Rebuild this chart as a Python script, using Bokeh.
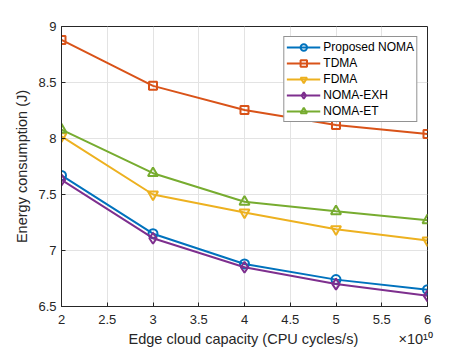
from bokeh.plotting import figure
from bokeh.models import FixedTicker, Range1d, Legend, LegendItem
from bokeh.embed import file_html
from bokeh.resources import INLINE

# ---- data ----
capacity = [2, 3, 4, 5, 6]  # x 1e10 CPU cycles/s
proposed_noma = [7.67, 7.15, 6.88, 6.74, 6.65]
tdma = [8.88, 8.47, 8.255, 8.12, 8.04]
fdma = [8.02, 7.50, 7.34, 7.19, 7.09]
noma_exh = [7.63, 7.11, 6.85, 6.70, 6.595]
noma_et = [8.08, 7.69, 7.435, 7.35, 7.27]

x_ticks = [2, 2.5, 3, 3.5, 4, 4.5, 5, 5.5, 6]
x_tick_labels = ["2", "2.5", "3", "3.5", "4", "4.5", "5", "5.5", "6"]
y_ticks = [6.5, 7, 7.5, 8, 8.5, 9]
y_tick_labels = ["6.5", "7", "7.5", "8", "8.5", "9"]
x_label = "Edge cloud capacity (CPU cycles/s)"
x_exponent = "×10\u00b9\u2070"
y_label = "Energy consumption (J)"

series = [
    ("Proposed NOMA", proposed_noma, "#0072BD", "circle", 9),
    ("TDMA", tdma, "#D95319", "square", 8),
    ("FDMA", fdma, "#EDB120", "inverted_triangle", 10),
    ("NOMA-EXH", noma_exh, "#7E2F8E", "diamond", 11),
    ("NOMA-ET", noma_et, "#77AC30", "triangle", 10),
]

FONT = "Liberation Sans"
TXT = "#262626"
NBSP = "\u00a0"

p = figure(width=463, height=349, output_backend="svg", toolbar_location=None,
           x_range=Range1d(2, 6), y_range=Range1d(6.5, 9),
           min_border_left=61, min_border_right=36, min_border_top=26, min_border_bottom=41)
p.background_fill_color = "white"
p.border_fill_color = "white"
p.outline_line_color = TXT
p.outline_line_width = 1

for ax, ticks, labels in ((p.xaxis[0], x_ticks, x_tick_labels), (p.yaxis[0], y_ticks, y_tick_labels)):
    ax.ticker = FixedTicker(ticks=ticks)
    ax.major_label_overrides = {t: l for t, l in zip(ticks, labels)}
    ax.major_label_text_font = FONT
    ax.major_label_text_font_size = "13px"
    ax.major_label_text_color = TXT
    ax.axis_line_color = TXT
    ax.major_tick_line_color = TXT
    ax.major_tick_in = 4
    ax.major_tick_out = 0
    ax.minor_tick_line_color = None
    ax.axis_label_text_font = FONT
    ax.axis_label_text_font_size = "14.5px"
    ax.axis_label_text_font_style = "normal"
    ax.axis_label_text_color = TXT

# x-axis label with the x10^10 multiplier at the right (padding keeps the label centred)
p.xaxis[0].axis_label = NBSP * 18 + x_label + NBSP * 10 + x_exponent
p.yaxis[0].axis_label = y_label
p.xaxis[0].major_label_standoff = 8
p.xaxis[0].axis_label_standoff = 4
p.yaxis[0].major_label_standoff = 5
p.yaxis[0].axis_label_standoff = 5

p.xgrid.ticker = FixedTicker(ticks=x_ticks)
p.ygrid.ticker = FixedTicker(ticks=y_ticks)
p.grid.grid_line_color = "#e3e3e3"
p.grid.grid_line_width = 1

items = []
for name, vals, color, marker, size in series:
    r1 = p.line(capacity, vals, line_color=color, line_width=2)
    r2 = p.scatter(capacity, vals, marker=marker, size=size, line_color=color,
                   fill_color=None, line_width=2)
    items.append(LegendItem(label=name, renderers=[r1, r2]))

legend = Legend(items=items, location="top_right")
legend.margin = 10
legend.label_text_font = FONT
legend.label_text_font_size = "12px"
legend.label_text_color = "black"
legend.glyph_width = 34
legend.glyph_height = 16
legend.label_height = 16
legend.spacing = 0
legend.padding = 2
legend.label_standoff = 3
legend.border_line_color = TXT
legend.border_line_width = 1
legend.background_fill_color = "white"
legend.background_fill_alpha = 1
p.add_layout(legend)

open("out.html", "w").write(file_html(p, INLINE))
